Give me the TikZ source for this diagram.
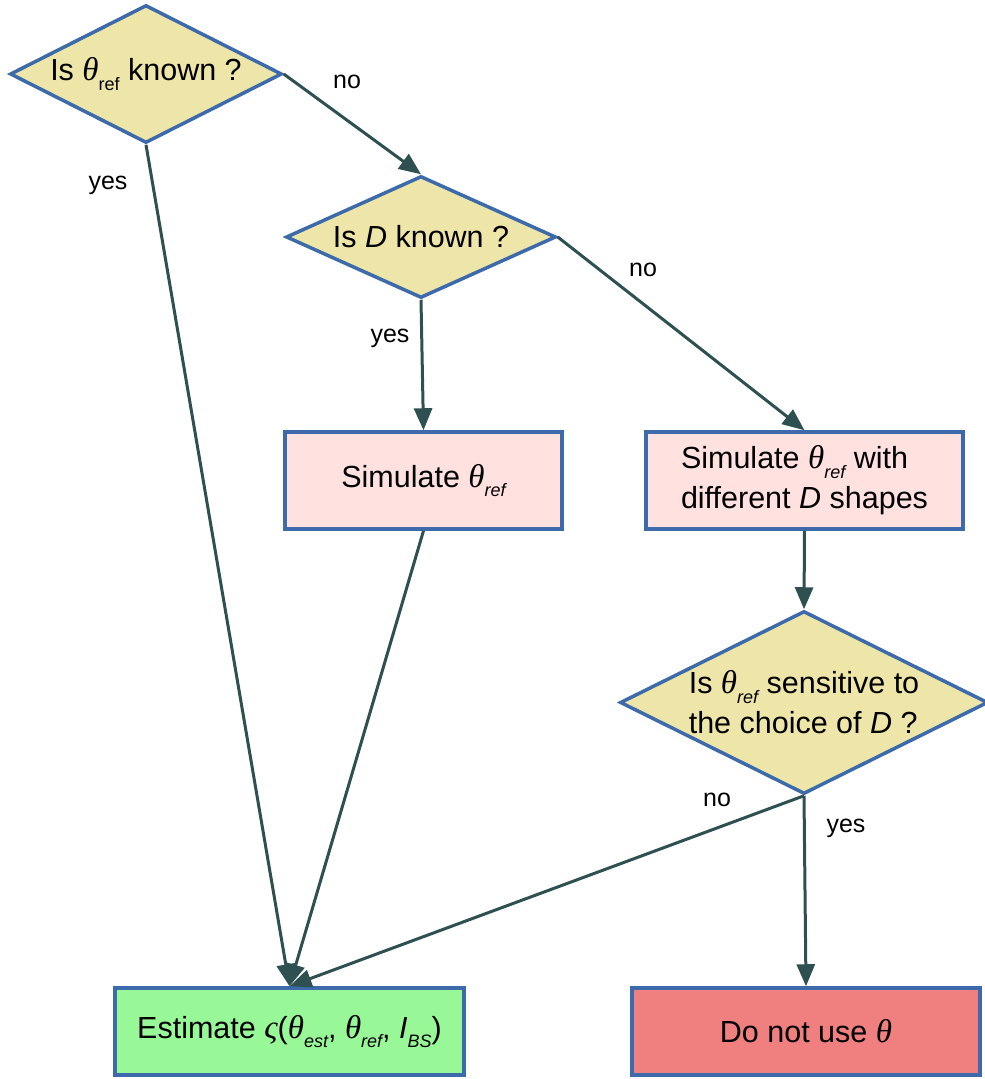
\documentclass[tikz,border=0pt]{standalone}
\usepackage{fontspec}
\setmainfont{Liberation Sans}
\newfontfamily\grk{Liberation Serif}
\usetikzlibrary{shapes.geometric,arrows.meta}
\definecolor{qfill}{HTML}{EEE6A8}
\definecolor{bord}{HTML}{3C6AAA}
\definecolor{pinkf}{HTML}{FFE1DF}
\definecolor{greenf}{HTML}{98F898}
\definecolor{redf}{HTML}{F08080}
\definecolor{arr}{HTML}{2F5050}
\newcommand{\thet}{{\grk\itshape\fontsize{33}{33}\selectfont θ}}
\newcommand{\lo}[1]{\raisebox{-0.6ex}{\fontsize{18}{18}\selectfont #1}}
\begin{document}
\begin{tikzpicture}[x=1pt,y=-1pt,
  base/.style={draw=bord,line width=3.5pt,font=\fontsize{30.5}{40}\selectfont,inner sep=0pt},
  quest/.style={base,diamond,fill=qfill,shape aspect=2},
  proc/.style={base,rectangle,fill=pinkf},
  flow/.style={draw=arr,line width=3pt,-{Triangle[length=22pt,width=18pt]}},
  lbl/.style={font=\fontsize{25}{25}\selectfont,inner sep=0pt}]
\useasboundingbox (0,0) rectangle (985,1079);
\node[quest,minimum width=272pt,minimum height=138pt] (q1) at (146,74) {\raisebox{-4pt}{Is \thet\lo{ref} known ?}};
\node[quest,minimum width=270pt,minimum height=122pt] (q2) at (421,237) {\raisebox{-3pt}{Is \textit{D} known ?}};
\node[proc,minimum width=277pt,minimum height=97pt] (s1) at (423.5,480.5) {\raisebox{-3pt}{Simulate \thet\lo{\itshape ref}}};
\node[proc,minimum width=317pt,minimum height=97pt,align=left] (s2) at (804.5,480.5) {Simulate \thet\lo{\itshape ref} with\\different \textit{D} shapes};
\node[quest,minimum width=368pt,minimum height=183pt,align=left] (q3) at (804,702.5) {Is \thet\lo{\itshape ref} sensitive to\\the choice of \textit{D} ?};
\node[base,rectangle,fill=greenf,minimum width=349pt,minimum height=87pt] (est) at (289.5,1031.5) {Estimate {\grk\itshape\fontsize{33}{33}\selectfont ς}(\thet\lo{\itshape est}, \thet\lo{\itshape ref}, \textit{I}\lo{\itshape BS})};
\node[base,rectangle,fill=redf,minimum width=348pt,minimum height=87pt] (dn) at (806,1031.5) {Do not use \thet};
\draw[flow] (q1.east) -- (q2.north);
\draw[flow] (q1.south) -- (est.north);
\draw[flow] (q2.south) -- (s1.north);
\draw[flow] (q2.east) -- (s2.north);
\draw[flow] (s1.south) -- (est.north);
\draw[flow] (s2.south) -- (q3.north);
\draw[flow] (q3.south) -- (est.north);
\draw[flow] (q3.south) -- (dn.north);
\node[lbl] (l1) at (347,82) {no};
\node[lbl] (l2) at (108,185) {yes};
\node[lbl] (l3) at (390,338) {yes};
\node[lbl] (l4) at (643,270) {no};
\node[lbl] (l5) at (717,800) {no};
\node[lbl] (l6) at (846,828) {yes};
\end{tikzpicture}
\end{document}
